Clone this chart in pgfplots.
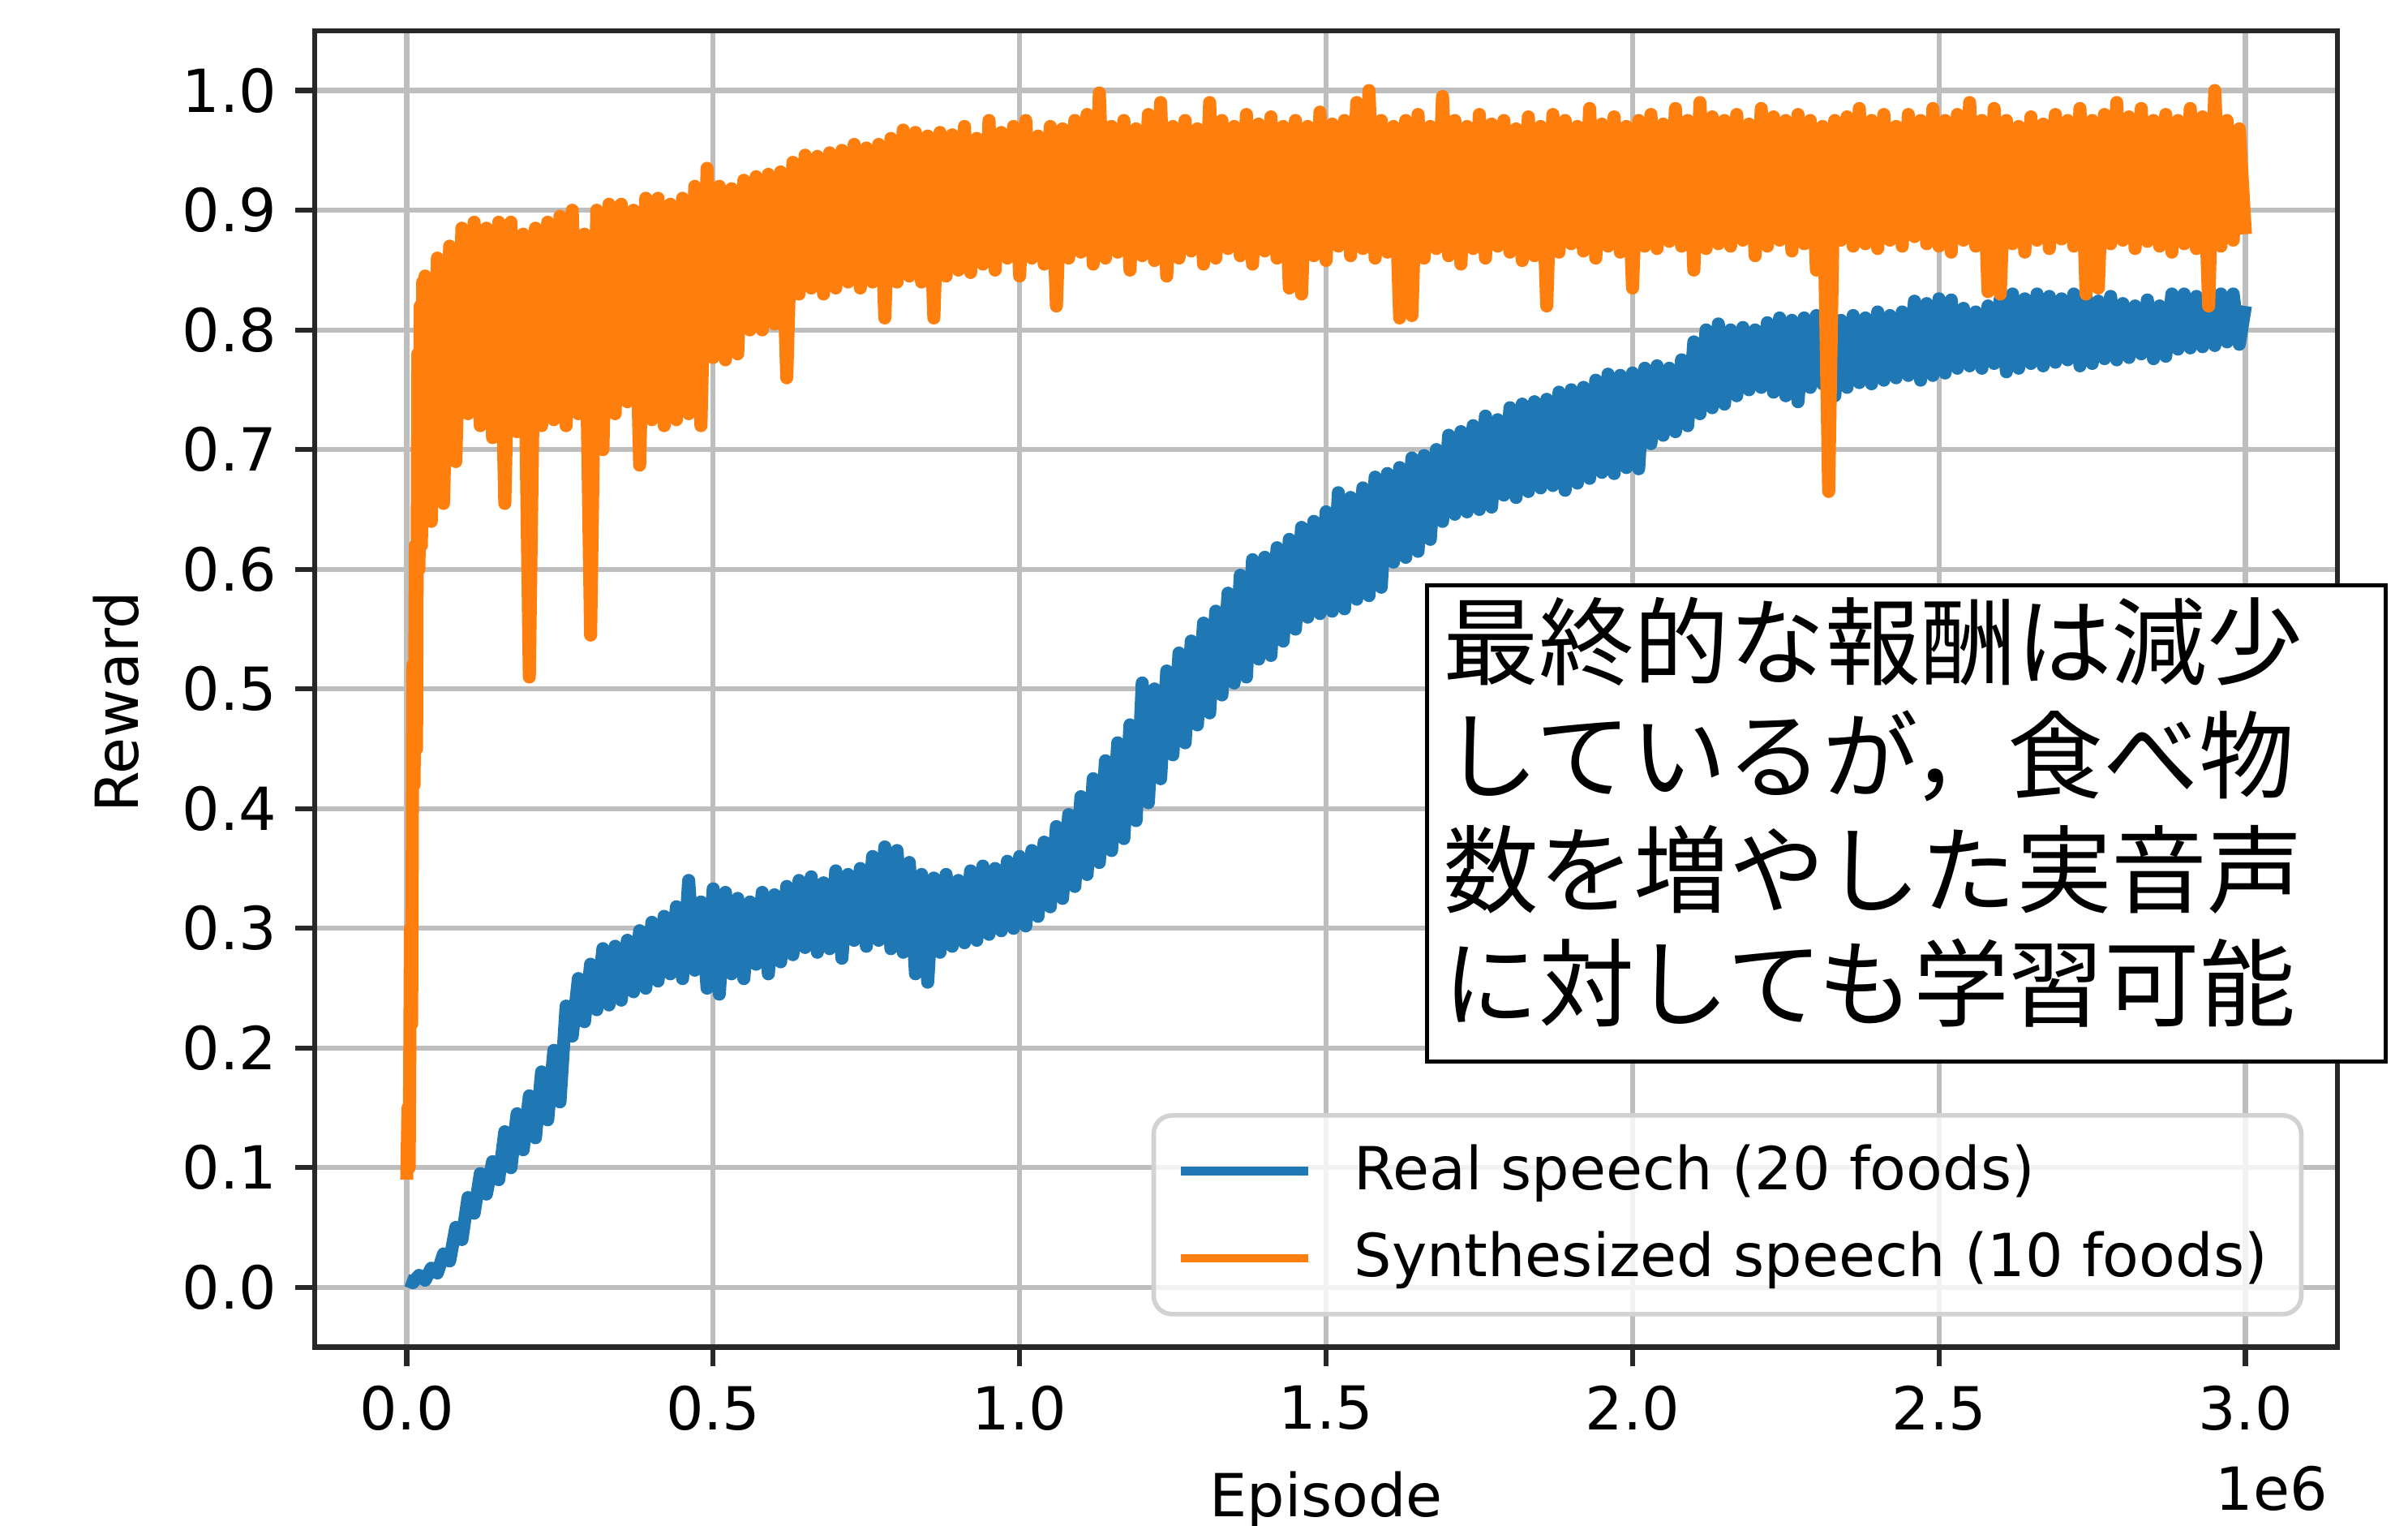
\documentclass[border=0pt]{standalone}
\usepackage{fontspec}
\setmainfont{DejaVu Sans}
\newfontfamily\cjk{Noto Sans CJK JP}
\usepackage{pgfplots}
\pgfplotsset{compat=1.18}
\definecolor{mplblue}{HTML}{1F77B4}
\definecolor{mplorange}{HTML}{FF7F0E}
\definecolor{gridgray}{RGB}{190,190,190}
\definecolor{spine}{RGB}{40,40,40}
\definecolor{legframe}{RGB}{210,210,210}
\begin{document}
\begin{tikzpicture}
\useasboundingbox (-20.5mm,-11.6mm) rectangle (136.3mm,87.7mm);
\begin{axis}[
  name=ax, at={(0,0)}, anchor=south west,
  scale only axis, width=131.7mm, height=85.7mm,
  xmin=-0.15, xmax=3.15, ymin=-0.05, ymax=1.05,
  xtick={0,0.5,1,1.5,2,2.5,3},
  xticklabels={0.0,0.5,1.0,1.5,2.0,2.5,3.0},
  ytick={0,0.1,0.2,0.3,0.4,0.5,0.6,0.7,0.8,0.9,1.0},
  yticklabels={0.0,0.1,0.2,0.3,0.4,0.5,0.6,0.7,0.8,0.9,1.0},
  tick pos=left, tick align=outside, major tick length=1.25mm,
  tick style={spine, line width=0.33mm},
  axis line style={spine, line width=0.33mm},
  grid=major, major grid style={gridgray, line width=0.33mm},
  tick label style={font=\fontsize{11}{13}\selectfont},
  label style={font=\fontsize{11}{13}\selectfont},
  xlabel={Episode}, ylabel={Reward},
  xlabel style={at={(axis description cs:0.5,-0.129)}, anchor=base},
  ylabel style={at={(axis description cs:-0.0873,0.49)}, anchor=base},
  clip mode=individual,
  legend cell align=left,
  legend image code/.code={\draw[#1, line width=0.55mm] (0mm,0mm) -- (8.3mm,0mm);},
  legend style={at={(1,0)}, anchor=south east, xshift=-2.2mm, yshift=2mm,
    draw=legframe, line width=0.3mm, rounded corners=1.2mm, fill=white,
    fill opacity=0.8, text opacity=1, draw opacity=1,
    font=\fontsize{11}{13}\selectfont, inner xsep=1.5mm, inner ysep=1.2mm,
    row sep=0.8mm, /tikz/every odd column/.append style={column sep=2mm}},
]
\addplot[mplblue, line width=0.85mm, line join=round, no markers] coordinates {
(0.00,0.006)(0.01,0.004)(0.02,0.010)(0.03,0.006)(0.04,0.016)(0.05,0.012)(0.06,0.028)(0.07,0.022)(0.08,0.050)(0.09,0.040)
(0.10,0.075)(0.11,0.062)(0.12,0.095)(0.13,0.078)(0.14,0.105)(0.15,0.090)(0.16,0.130)(0.17,0.100)(0.18,0.145)(0.19,0.115)
(0.20,0.160)(0.21,0.125)(0.22,0.180)(0.23,0.140)(0.24,0.198)(0.25,0.155)(0.26,0.235)(0.27,0.210)(0.28,0.258)(0.29,0.222)
(0.30,0.270)(0.31,0.232)(0.32,0.283)(0.33,0.236)(0.34,0.285)(0.35,0.240)(0.36,0.290)(0.37,0.247)(0.38,0.298)(0.39,0.250)
(0.40,0.305)(0.41,0.256)(0.42,0.310)(0.43,0.262)(0.44,0.318)(0.45,0.258)(0.46,0.340)(0.47,0.265)(0.48,0.322)(0.49,0.250)
(0.50,0.333)(0.51,0.245)(0.52,0.330)(0.53,0.262)(0.54,0.325)(0.55,0.258)(0.56,0.322)(0.57,0.270)(0.58,0.330)(0.59,0.262)
(0.60,0.328)(0.61,0.272)(0.62,0.335)(0.63,0.278)(0.64,0.340)(0.65,0.284)(0.66,0.343)(0.67,0.280)(0.68,0.338)(0.69,0.283)
(0.70,0.348)(0.71,0.275)(0.72,0.345)(0.73,0.290)(0.74,0.350)(0.75,0.285)(0.76,0.360)(0.77,0.290)(0.78,0.368)(0.79,0.283)
(0.80,0.365)(0.81,0.280)(0.82,0.355)(0.83,0.262)(0.84,0.345)(0.85,0.255)(0.86,0.342)(0.87,0.280)(0.88,0.345)(0.89,0.285)
(0.90,0.340)(0.91,0.288)(0.92,0.348)(0.93,0.290)(0.94,0.352)(0.95,0.295)(0.96,0.350)(0.97,0.298)(0.98,0.356)(0.99,0.300)
(1.00,0.360)(1.01,0.302)(1.02,0.365)(1.03,0.310)(1.04,0.372)(1.05,0.318)(1.06,0.385)(1.07,0.325)(1.08,0.395)(1.09,0.335)
(1.10,0.410)(1.11,0.345)(1.12,0.425)(1.13,0.355)(1.14,0.440)(1.15,0.365)(1.16,0.455)(1.17,0.375)(1.18,0.470)(1.19,0.390)
(1.20,0.505)(1.21,0.405)(1.22,0.500)(1.23,0.425)(1.24,0.515)(1.25,0.445)(1.26,0.530)(1.27,0.455)(1.28,0.540)(1.29,0.470)
(1.30,0.555)(1.31,0.480)(1.32,0.565)(1.33,0.495)(1.34,0.580)(1.35,0.505)(1.36,0.595)(1.37,0.510)(1.38,0.608)(1.39,0.525)
(1.40,0.610)(1.41,0.528)(1.42,0.618)(1.43,0.540)(1.44,0.625)(1.45,0.550)(1.46,0.635)(1.47,0.560)(1.48,0.640)(1.49,0.563)
(1.50,0.648)(1.51,0.565)(1.52,0.664)(1.53,0.567)(1.54,0.660)(1.55,0.575)(1.56,0.668)(1.57,0.578)(1.58,0.677)(1.59,0.585)
(1.60,0.680)(1.61,0.606)(1.62,0.685)(1.63,0.610)(1.64,0.693)(1.65,0.615)(1.66,0.695)(1.67,0.625)(1.68,0.700)(1.69,0.640)
(1.70,0.712)(1.71,0.646)(1.72,0.715)(1.73,0.648)(1.74,0.720)(1.75,0.650)(1.76,0.728)(1.77,0.652)(1.78,0.725)(1.79,0.662)
(1.80,0.735)(1.81,0.660)(1.82,0.738)(1.83,0.665)(1.84,0.740)(1.85,0.668)(1.86,0.742)(1.87,0.670)(1.88,0.748)(1.89,0.666)
(1.90,0.750)(1.91,0.672)(1.92,0.752)(1.93,0.676)(1.94,0.758)(1.95,0.681)(1.96,0.763)(1.97,0.680)(1.98,0.762)(1.99,0.685)
(2.00,0.764)(2.01,0.684)(2.02,0.768)(2.03,0.705)(2.04,0.770)(2.05,0.712)(2.06,0.768)(2.07,0.715)(2.08,0.775)(2.09,0.720)
(2.10,0.790)(2.11,0.730)(2.12,0.800)(2.13,0.735)(2.14,0.805)(2.15,0.738)(2.16,0.800)(2.17,0.745)(2.18,0.802)(2.19,0.750)
(2.20,0.800)(2.21,0.752)(2.22,0.806)(2.23,0.748)(2.24,0.810)(2.25,0.745)(2.26,0.808)(2.27,0.740)(2.28,0.810)(2.29,0.752)
(2.30,0.812)(2.31,0.755)(2.32,0.810)(2.33,0.745)(2.34,0.808)(2.35,0.752)(2.36,0.812)(2.37,0.756)(2.38,0.810)(2.39,0.755)
(2.40,0.815)(2.41,0.758)(2.42,0.812)(2.43,0.760)(2.44,0.815)(2.45,0.762)(2.46,0.824)(2.47,0.758)(2.48,0.822)(2.49,0.762)
(2.50,0.826)(2.51,0.764)(2.52,0.825)(2.53,0.768)(2.54,0.818)(2.55,0.770)(2.56,0.815)(2.57,0.768)(2.58,0.820)(2.59,0.772)
(2.60,0.826)(2.61,0.765)(2.62,0.830)(2.63,0.768)(2.64,0.826)(2.65,0.772)(2.66,0.830)(2.67,0.770)(2.68,0.828)(2.69,0.773)
(2.70,0.826)(2.71,0.775)(2.72,0.830)(2.73,0.770)(2.74,0.828)(2.75,0.772)(2.76,0.824)(2.77,0.776)(2.78,0.828)(2.79,0.775)
(2.80,0.822)(2.81,0.777)(2.82,0.820)(2.83,0.780)(2.84,0.825)(2.85,0.776)(2.86,0.820)(2.87,0.778)(2.88,0.830)(2.89,0.784)
(2.90,0.830)(2.91,0.785)(2.92,0.828)(2.93,0.786)(2.94,0.832)(2.95,0.787)(2.96,0.830)(2.97,0.790)(2.98,0.830)(2.99,0.788)
(3.00,0.820)};
\addlegendentry{Real speech (20 foods)}
\addplot[mplorange, line width=0.85mm, line join=round, no markers] coordinates {
(0.000,0.090)(0.002,0.150)(0.004,0.100)(0.006,0.300)(0.008,0.220)(0.010,0.520)(0.012,0.420)(0.014,0.620)(0.016,0.450)(0.018,0.780)
(0.020,0.600)(0.022,0.820)(0.024,0.620)(0.026,0.840)(0.028,0.640)(0.030,0.845)
(0.04,0.640)(0.05,0.860)(0.06,0.655)(0.07,0.870)(0.08,0.690)(0.09,0.885)
(0.10,0.730)(0.11,0.890)(0.12,0.720)(0.13,0.885)(0.14,0.710)(0.15,0.890)(0.16,0.655)(0.17,0.890)(0.18,0.715)(0.19,0.880)
(0.20,0.510)(0.21,0.885)(0.22,0.720)(0.23,0.890)(0.24,0.725)(0.25,0.895)(0.26,0.720)(0.27,0.900)(0.28,0.730)(0.29,0.880)
(0.30,0.545)(0.31,0.900)(0.32,0.700)(0.33,0.905)(0.34,0.730)(0.35,0.905)(0.36,0.740)(0.37,0.900)(0.38,0.687)(0.39,0.910)
(0.40,0.725)(0.41,0.910)(0.42,0.720)(0.43,0.905)(0.44,0.725)(0.45,0.910)(0.46,0.730)(0.47,0.920)(0.48,0.720)(0.49,0.935)
(0.50,0.777)(0.51,0.920)(0.52,0.775)(0.53,0.918)(0.54,0.780)(0.55,0.925)(0.56,0.800)(0.57,0.928)(0.58,0.800)(0.59,0.930)
(0.60,0.805)(0.61,0.932)(0.62,0.760)(0.63,0.940)(0.64,0.830)(0.65,0.946)(0.66,0.835)(0.67,0.945)(0.68,0.830)(0.69,0.948)
(0.70,0.835)(0.71,0.950)(0.72,0.840)(0.73,0.955)(0.74,0.835)(0.75,0.952)(0.76,0.840)(0.77,0.955)(0.78,0.810)(0.79,0.960)
(0.80,0.840)(0.81,0.967)(0.82,0.845)(0.83,0.965)(0.84,0.840)(0.85,0.962)(0.86,0.810)(0.87,0.965)(0.88,0.845)(0.89,0.963)
(0.90,0.850)(0.91,0.970)(0.92,0.848)(0.93,0.960)(0.94,0.855)(0.95,0.975)(0.96,0.850)(0.97,0.965)(0.98,0.860)(0.99,0.970)
(1.00,0.845)(1.01,0.975)(1.02,0.860)(1.03,0.962)(1.04,0.855)(1.05,0.970)(1.06,0.820)(1.07,0.968)(1.08,0.860)(1.09,0.975)
(1.10,0.865)(1.11,0.980)(1.12,0.855)(1.13,0.998)(1.14,0.860)(1.15,0.970)(1.16,0.865)(1.17,0.975)(1.18,0.850)(1.19,0.968)
(1.20,0.862)(1.21,0.980)(1.22,0.858)(1.23,0.990)(1.24,0.845)(1.25,0.970)(1.26,0.860)(1.27,0.975)(1.28,0.866)(1.29,0.968)
(1.30,0.855)(1.31,0.990)(1.32,0.860)(1.33,0.975)(1.34,0.868)(1.35,0.970)(1.36,0.862)(1.37,0.980)(1.38,0.855)(1.39,0.972)
(1.40,0.866)(1.41,0.978)(1.42,0.860)(1.43,0.970)(1.44,0.835)(1.45,0.975)(1.46,0.830)(1.47,0.970)(1.48,0.862)(1.49,0.982)
(1.50,0.858)(1.51,0.972)(1.52,0.870)(1.53,0.975)(1.54,0.862)(1.55,0.990)(1.56,0.868)(1.57,1.000)(1.58,0.860)(1.59,0.975)
(1.60,0.865)(1.61,0.970)(1.62,0.810)(1.63,0.975)(1.64,0.812)(1.65,0.980)(1.66,0.860)(1.67,0.970)(1.68,0.868)(1.69,0.995)
(1.70,0.862)(1.71,0.975)(1.72,0.855)(1.73,0.970)(1.74,0.868)(1.75,0.980)(1.76,0.860)(1.77,0.972)(1.78,0.870)(1.79,0.975)
(1.80,0.865)(1.81,0.968)(1.82,0.858)(1.83,0.978)(1.84,0.862)(1.85,0.970)(1.86,0.820)(1.87,0.980)(1.88,0.865)(1.89,0.975)
(1.90,0.872)(1.91,0.970)(1.92,0.866)(1.93,0.985)(1.94,0.860)(1.95,0.972)(1.96,0.870)(1.97,0.978)(1.98,0.865)(1.99,0.970)
(2.00,0.835)(2.01,0.975)(2.02,0.870)(2.03,0.980)(2.04,0.868)(2.05,0.972)(2.06,0.874)(2.07,0.985)(2.08,0.870)(2.09,0.975)
(2.10,0.850)(2.11,0.990)(2.12,0.868)(2.13,0.978)(2.14,0.872)(2.15,0.975)(2.16,0.870)(2.17,0.980)(2.18,0.875)(2.19,0.972)
(2.20,0.862)(2.21,0.985)(2.22,0.870)(2.23,0.978)(2.24,0.875)(2.25,0.975)(2.26,0.866)(2.27,0.980)(2.28,0.872)(2.29,0.975)
(2.30,0.850)(2.31,0.970)(2.32,0.665)(2.33,0.975)(2.34,0.875)(2.35,0.978)(2.36,0.870)(2.37,0.985)(2.38,0.872)(2.39,0.975)
(2.40,0.868)(2.41,0.980)(2.42,0.875)(2.43,0.970)(2.44,0.870)(2.45,0.980)(2.46,0.878)(2.47,0.975)(2.48,0.872)(2.49,0.985)
(2.50,0.870)(2.51,0.975)(2.52,0.865)(2.53,0.980)(2.54,0.875)(2.55,0.990)(2.56,0.870)(2.57,0.975)(2.58,0.832)(2.59,0.985)
(2.60,0.830)(2.61,0.975)(2.62,0.872)(2.63,0.970)(2.64,0.865)(2.65,0.978)(2.66,0.875)(2.67,0.972)(2.68,0.868)(2.69,0.980)
(2.70,0.876)(2.71,0.975)(2.72,0.870)(2.73,0.985)(2.74,0.830)(2.75,0.975)(2.76,0.835)(2.77,0.980)(2.78,0.872)(2.79,0.990)
(2.80,0.875)(2.81,0.978)(2.82,0.868)(2.83,0.985)(2.84,0.874)(2.85,0.975)(2.86,0.870)(2.87,0.980)(2.88,0.865)(2.89,0.975)
(2.90,0.872)(2.91,0.985)(2.92,0.868)(2.93,0.978)(2.94,0.820)(2.95,1.000)(2.96,0.870)(2.97,0.975)(2.98,0.875)(2.99,0.968)
(3.00,0.880)};
\addlegendentry{Synthesized speech (10 foods)}
\node[draw=black, line width=0.25mm, fill=white, anchor=north west,
  inner sep=0pt, minimum width=62.4mm, minimum height=31mm]
  at (rel axis cs:0.549,0.580) {};
\node[anchor=north west, inner sep=0pt, xshift=1.1mm, yshift=-0.8mm,
  text width=60.4mm, align=left,
  font=\cjk\fontsize{17.7}{21.1}\selectfont]
  at (rel axis cs:0.549,0.580)
  {最終的な報酬は減少\\しているが，食べ物\\数を増やした実音声\\に対しても学習可能};
\node[anchor=base east, font=\fontsize{11}{13}\selectfont, xshift=0.6mm, yshift=-10.6mm]
  at (rel axis cs:1,0) {1e6};
\end{axis}
\end{tikzpicture}
\end{document}
